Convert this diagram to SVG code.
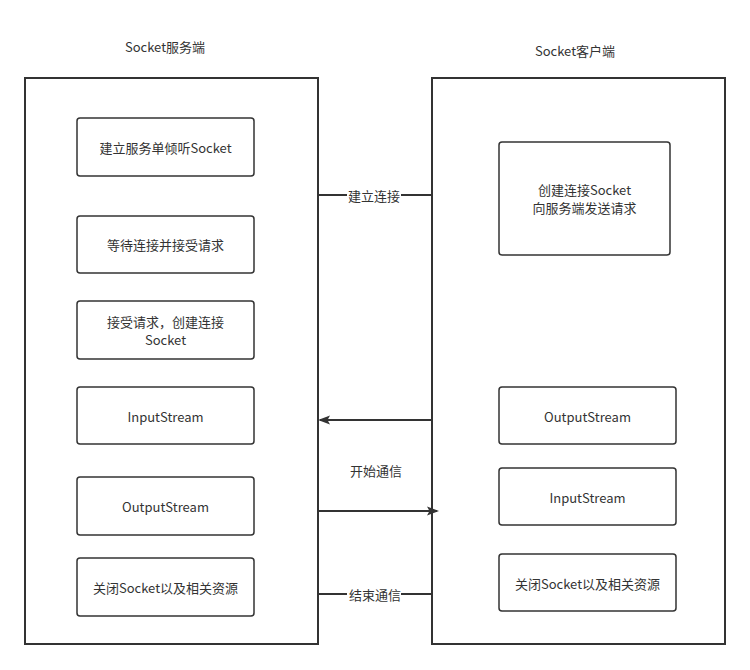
<svg xmlns="http://www.w3.org/2000/svg" width="750" height="670" viewBox="0 0 750 670">
<defs>
<style>
text{font-family:"Noto Sans CJK SC","Liberation Sans",sans-serif;font-size:13px;fill:#333;text-anchor:middle;dominant-baseline:central}
.big{fill:#fff;stroke:#333;stroke-width:2}
.box{fill:#fff;stroke:#333;stroke-width:1.5}
.conn{stroke:#333;stroke-width:2;fill:none}
.lbl{fill:#fff}
</style>
<marker id="arr" markerWidth="12" markerHeight="10" refX="10" refY="5" orient="auto" markerUnits="userSpaceOnUse"><path d="M0,0.5 L12,5 L0,9.5 L2.5,5 Z" fill="#333"/></marker>
</defs>
<rect width="750" height="670" fill="#fff"/>
<g id="server">
<text x="165" y="46">Socket服务端</text>
<rect class="big" x="25" y="78" width="293" height="566"/>
</g>
<g id="client">
<text x="575" y="50">Socket客户端</text>
<rect class="big" x="432" y="78" width="293" height="566"/>
</g>
<g id="s1"><rect class="box" x="77" y="118" width="177" height="58" rx="3"/><text x="165.5" y="147">建立服务单倾听Socket</text></g>
<g id="s2"><rect class="box" x="77" y="216" width="177" height="57" rx="3"/><text x="165.5" y="244.5">等待连接并接受请求</text></g>
<g id="s3"><rect class="box" x="77" y="301" width="177" height="58" rx="3"/><text x="165.5" y="321">接受请求，创建连接</text><text x="165.5" y="339">Socket</text></g>
<g id="s4"><rect class="box" x="77" y="387" width="177" height="57" rx="3"/><text x="165.5" y="416">InputStream</text></g>
<g id="s5"><rect class="box" x="77" y="477" width="177" height="58" rx="3"/><text x="165.5" y="506">OutputStream</text></g>
<g id="s6"><rect class="box" x="77" y="558" width="177" height="58" rx="3"/><text x="165.5" y="587">关闭Socket以及相关资源</text></g>
<g id="c1"><rect class="box" x="499" y="142" width="171" height="113" rx="3"/><text x="584.5" y="189">创建连接Socket</text><text x="584.5" y="207">向服务端发送请求</text></g>
<g id="c2"><rect class="box" x="499" y="387" width="177" height="57" rx="3"/><text x="587.5" y="416">OutputStream</text></g>
<g id="c3"><rect class="box" x="499" y="468" width="177" height="57" rx="3"/><text x="587.5" y="497">InputStream</text></g>
<g id="c4"><rect class="box" x="499" y="554" width="177" height="57" rx="3"/><text x="587.5" y="583">关闭Socket以及相关资源</text></g>
<g id="connectors">
<line class="conn" x1="318" y1="195" x2="432" y2="195"/>
<rect class="lbl" x="347" y="187" width="54" height="16"/>
<text x="374" y="195">建立连接</text>
<line class="conn" x1="432" y1="420" x2="320" y2="420" marker-end="url(#arr)"/>
<text x="376" y="470">开始通信</text>
<line class="conn" x1="318" y1="511" x2="437" y2="511" marker-end="url(#arr)"/>
<line class="conn" x1="318" y1="594" x2="432" y2="594"/>
<rect class="lbl" x="347" y="586" width="54" height="16"/>
<text x="375" y="594">结束通信</text>
</g>
</svg>
